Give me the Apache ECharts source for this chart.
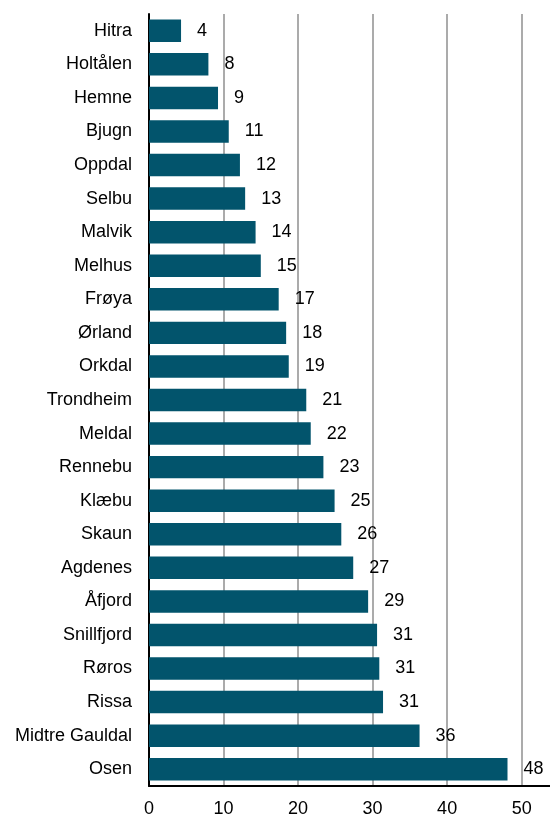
<!DOCTYPE html>
<html>
<head>
<meta charset="utf-8">
<script src="https://cdn.jsdelivr.net/npm/echarts@6/dist/echarts.min.js"></script>
<style>
html,body{margin:0;padding:0;background:#fff;}
#chart{width:550px;height:816px;}
</style>
</head>
<body>
<div id="chart"></div>
<script>
var categories = ["Hitra","Holtålen","Hemne","Bjugn","Oppdal","Selbu","Malvik","Melhus","Frøya","Ørland","Orkdal","Trondheim","Meldal","Rennebu","Klæbu","Skaun","Agdenes","Åfjord","Snillfjord","Røros","Rissa","Midtre Gauldal","Osen"];
var values = [4.3, 7.97, 9.26, 10.7, 12.2, 12.9, 14.3, 15.0, 17.4, 18.4, 18.75, 21.1, 21.7, 23.4, 24.9, 25.8, 27.4, 29.4, 30.6, 30.9, 31.4, 36.3, 48.1];
var xTicks = [0, 10, 20, 30, 40, 50];

var chart = echarts.init(document.getElementById('chart'));
chart.setOption({
  animation: false,
  backgroundColor: '#fff',
  grid: { left: 149, width: 447.2, top: 14, height: 772, containLabel: false, outerBoundsMode: 'none' },
  xAxis: {
    type: 'value', min: 0, max: 60, interval: 10,
    axisLine: { show: true, lineStyle: { color: '#000', width: 2 } },
    axisTick: { show: false },
    splitLine: { show: true, lineStyle: { color: '#8f8f8f', width: 1.5 } },
    axisLabel: {
      color: '#000', fontSize: 18, fontFamily: 'Liberation Sans, Arial, sans-serif', margin: 14,
      formatter: function (v) { return xTicks.indexOf(v) >= 0 ? String(v) : ''; }
    }
  },
  yAxis: {
    type: 'category', data: categories, inverse: true,
    axisLine: { show: true, lineStyle: { color: '#000', width: 2 } },
    axisTick: { show: false },
    axisLabel: { color: '#000', fontSize: 18, fontFamily: 'Liberation Sans, Arial, sans-serif', margin: 17 }
  },
  series: [{
    type: 'bar', data: values, barCategoryGap: '33%',
    itemStyle: { color: '#02546c' },
    label: {
      show: true, position: 'right', distance: 16, color: '#000', fontSize: 18,
      fontFamily: 'Liberation Sans, Arial, sans-serif',
      formatter: function (p) { return String(Math.round(p.value)); }
    }
  }]
});
</script>
</body>
</html>
